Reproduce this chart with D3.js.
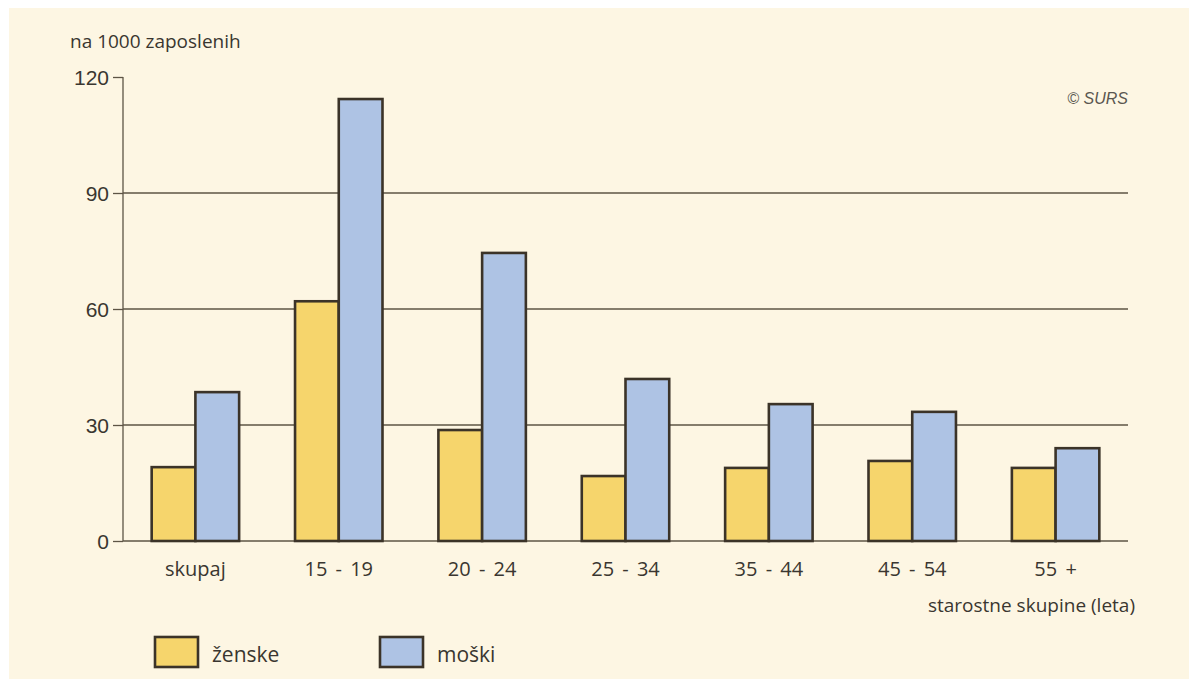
<!DOCTYPE html>
<html>
<head>
<meta charset="utf-8">
<script src="https://cdn.jsdelivr.net/npm/d3@7"></script>
<style>
  html, body { margin: 0; padding: 0; background: #ffffff; }
  svg { display: block; }
</style>
</head>
<body>
<svg id="chart" width="1189" height="679"></svg>
<script>
const categories = ["skupaj", "15 - 19", "20 - 24", "25 - 34", "35 - 44", "45 - 54", "55 +"];
const zenske = [19.1, 62.0, 28.7, 16.8, 18.9, 20.7, 18.9];
const moski  = [38.5, 114.3, 74.5, 41.9, 35.4, 33.4, 24.0];
const yTicks = [0, 30, 60, 90, 120];
const seriesNames = ["ženske", "moški"];
const seriesColors = ["#f6d56c", "#aec3e4"];

(function () {
const svg = d3.select("#chart");
const W = 1189, H = 679;

svg.append("rect").attr("x", 9).attr("y", 8).attr("width", W - 9).attr("height", H - 8)
  .attr("fill", "#fdf6e3");

const mLeft = 123, mRight = 1128, mTop = 77, mBottom = 541;
const x = d3.scaleBand().domain(categories).range([mLeft, mRight]).paddingInner(0.39).paddingOuter(0.2);
const xs = d3.scaleBand().domain(seriesNames).range([0, x.bandwidth()]);
const y = d3.scaleLinear().domain([0, 120]).range([mBottom, mTop]);

const ink = "#3b3328";
const grid = "#5d5445";
const txt = "#3a3630";

// gridlines (no line at the top value)
svg.append("g").selectAll("line").data(yTicks.filter(d => d > 0 && d < 120)).join("line")
  .attr("x1", mLeft).attr("x2", mRight).attr("y1", d => y(d)).attr("y2", d => y(d))
  .attr("stroke", grid).attr("stroke-width", 1.3);

// y axis
const yAxis = d3.axisLeft(y).tickValues(yTicks).tickSize(10).tickPadding(4).tickFormat(d3.format("d"));
const gy = svg.append("g").attr("transform", `translate(${mLeft},0)`).call(yAxis);
gy.select(".domain").attr("stroke", grid).attr("stroke-width", 1.3).attr("d", `M0,${mTop}V${mBottom}`);
gy.selectAll(".tick line").attr("stroke", grid).attr("stroke-width", 1.3);
gy.selectAll(".tick text").attr("fill", txt).attr("font-family", "Liberation Sans, Arial, sans-serif")
  .attr("font-size", 21).attr("dy", "0.36em");

// baseline
svg.append("line").attr("x1", mLeft).attr("x2", mRight).attr("y1", mBottom).attr("y2", mBottom)
  .attr("stroke", grid).attr("stroke-width", 1.3);

// bars
const groups = svg.append("g").selectAll("g").data(categories).join("g")
  .attr("transform", d => `translate(${x(d)},0)`);
groups.selectAll("rect").data((d, i) => [
    {s: seriesNames[0], v: zenske[i], c: seriesColors[0]},
    {s: seriesNames[1], v: moski[i], c: seriesColors[1]}
  ]).join("rect")
  .attr("x", d => xs(d.s)).attr("width", xs.bandwidth())
  .attr("y", d => y(d.v)).attr("height", d => y(0) - y(d.v))
  .attr("fill", d => d.c).attr("stroke", ink).attr("stroke-width", 2.6);

// x axis labels
const xAxis = d3.axisBottom(x).tickSize(0).tickPadding(21);
const gx = svg.append("g").attr("transform", `translate(0,${mBottom})`).call(xAxis);
gx.select(".domain").remove();
gx.selectAll(".tick text").attr("fill", txt).attr("font-family", "Open Sans, sans-serif")
  .attr("font-size", 20).attr("dy", "0.71em").attr("word-spacing", 3);

// axis titles
svg.append("text").attr("x", 70).attr("y", 48).text("na 1000 zaposlenih")
  .attr("font-family", "Open Sans, sans-serif").attr("font-size", 19).attr("fill", txt);
svg.append("text").attr("x", 1135).attr("y", 612).attr("text-anchor", "end").text("starostne skupine (leta)")
  .attr("font-family", "Open Sans, sans-serif").attr("font-size", 19).attr("fill", txt);
svg.append("text").attr("x", 1128).attr("y", 104).attr("text-anchor", "end").text("© SURS")
  .attr("font-family", "Liberation Sans, Arial, sans-serif").attr("font-style", "italic")
  .attr("font-size", 16).attr("fill", "#5a5650");

// legend
const legendX = [155, 380];
const lg = svg.append("g").selectAll("g").data(seriesNames).join("g")
  .attr("transform", (d, i) => `translate(${legendX[i]},637)`);
lg.append("rect").attr("width", 43).attr("height", 30)
  .attr("fill", (d, i) => seriesColors[i]).attr("stroke", ink).attr("stroke-width", 2.6);
lg.append("text").attr("x", 57).attr("y", 25).text(d => d)
  .attr("font-family", "Open Sans, sans-serif").attr("font-size", 21).attr("fill", txt);
})();
</script>
</body>
</html>
